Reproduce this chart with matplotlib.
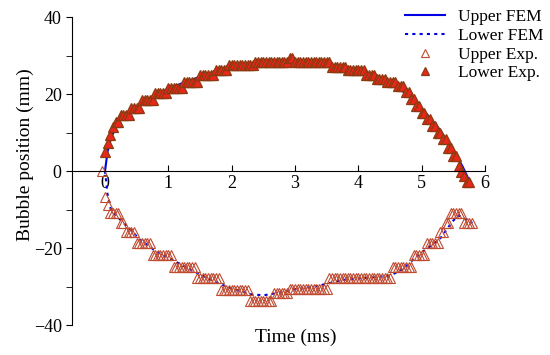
import numpy as np
import matplotlib
matplotlib.use("Agg")
import matplotlib.pyplot as plt

plt.rcParams['font.family'] = ['Liberation Serif', 'DejaVu Serif']
nan = np.nan

# frame times (ms)
time_ms = [-0.042, 0.0, 0.042, 0.083, 0.125, 0.167, 0.208, 0.25, 0.292, 0.333, 0.375, 0.417, 0.458,
           0.5, 0.542, 0.583, 0.625, 0.667, 0.708, 0.75, 0.792, 0.833, 0.875, 0.917, 0.958,
           1.0, 1.042, 1.083, 1.125, 1.167, 1.208, 1.25, 1.292, 1.333, 1.375, 1.417, 1.458,
           1.5, 1.542, 1.583, 1.625, 1.667, 1.708, 1.75, 1.792, 1.833, 1.875, 1.917, 1.958,
           2.0, 2.042, 2.083, 2.125, 2.167, 2.208, 2.25, 2.292, 2.333, 2.375, 2.417, 2.458,
           2.5, 2.542, 2.583, 2.625, 2.667, 2.708, 2.75, 2.792, 2.833, 2.875, 2.917, 2.958,
           3.0, 3.042, 3.083, 3.125, 3.167, 3.208, 3.25, 3.292, 3.333, 3.375, 3.417, 3.458,
           3.5, 3.542, 3.583, 3.625, 3.667, 3.708, 3.75, 3.792, 3.833, 3.875, 3.917, 3.958,
           4.0, 4.042, 4.083, 4.125, 4.167, 4.208, 4.25, 4.292, 4.333, 4.375, 4.417, 4.458,
           4.5, 4.542, 4.583, 4.625, 4.667, 4.708, 4.75, 4.792, 4.833, 4.875, 4.917, 4.958,
           5.0, 5.042, 5.083, 5.125, 5.167, 5.208, 5.25, 5.292, 5.333, 5.375, 5.417, 5.458,
           5.5, 5.542, 5.583, 5.625, 5.667, 5.708, 5.75, 5.792]

# open triangles
upper_exp = [0, -6.7, -8.8, -10.9, -10.9, -10.9, -10.9, -13.5, -13.5, -15.8, -15.8, -15.8, -15.8,
             -18.7, -18.7, -18.7, -18.7, -18.7, -18.7, -21.8, -21.8, -21.8, -21.8, -21.8, -21.8,
             -21.8, -21.8, -24.9, -24.9, -24.9, -24.9, -24.9, -24.9, -24.9, -24.9, -24.9, -27.8,
             -27.8, -27.8, -27.8, -27.8, -27.8, -27.8, -27.8, -27.8, -30.9, -30.9, -30.9, -30.9,
             -30.9, -30.9, -30.9, -30.9, -30.9, -30.9, -30.9, -33.8, -33.8, -33.8, -33.8, -33.8,
             -33.8, -33.8, -33.8, -33.8, -31.7, -31.7, -31.7, -31.7, -31.7, -31.7, -30.6, -30.6,
             -30.6, -30.6, -30.6, -30.6, -30.6, -30.6, -30.6, -30.6, -30.6, -30.6, -30.6, -30.6,
             -30.6, -27.8, -27.8, -27.8, -27.8, -27.8, -27.8, -27.8, -27.8, -27.8, -27.8, -27.8,
             -27.8, -27.8, -27.8, -27.8, -27.8, -27.8, -27.8, -27.8, -27.8, -27.8, -27.8, -27.8,
             -27.8, -24.9, -24.9, -24.9, -24.9, -24.9, -24.9, -24.9, -24.9, -21.8, -21.8, -21.8,
             -21.8, -21.8, -18.7, -18.7, -18.7, -18.7, -18.7, -15.8, -15.8, -13.5, -13.5, -10.9,
             -10.9, -10.9, -10.9, -10.9, -13.5, -13.5, -13.5, -13.5]

# filled triangles
lower_exp = [nan, 4.9, 7.3, 9.4, 11.4, 12.7, 12.7, 14.5, 14.5, 14.5, 14.5, 16.4, 16.4,
             16.4, 16.4, 18.4, 18.4, 18.4, 18.4, 18.4, 20.3, 20.3, 20.3, 20.3, 20.3,
             21.6, 21.6, 21.6, 21.6, 21.6, 21.6, 23.1, 23.1, 23.1, 23.1, 23.1, 23.1,
             24.9, 24.9, 24.9, 24.9, 24.9, 24.9, 26.2, 26.2, 26.2, 26.2, 26.2, 27.5,
             27.5, 27.5, 27.5, 27.5, 27.5, 27.5, 27.5, 27.5, 27.5, 28.3, 28.3, 28.3,
             28.3, 28.3, 28.3, 28.3, 28.3, 28.3, 28.3, 28.3, 28.3, 28.3, 29.3, 29.3,
             28.3, 28.3, 28.3, 28.3, 28.3, 28.3, 28.3, 28.3, 28.3, 28.3, 28.3, 28.3,
             28.3, 28.3, 27.0, 27.0, 27.0, 27.0, 27.0, 27.0, 26.2, 26.2, 26.2, 26.2,
             26.2, 26.2, 26.2, 25.0, 25.0, 25.0, 25.0, 24.0, 24.0, 24.0, 24.0, 23.0,
             23.0, 23.0, 23.0, 22.0, 22.0, 22.0, 20.5, 20.5, 18.8, 18.8, 16.8, 16.8,
             15.0, 15.0, 13.4, 13.4, 11.8, 11.8, 10.0, 10.0, 8.3, 8.3, 6.0, 6.0,
             3.8, 3.8, 1.2, -0.3, -1.3, -2.9, -2.9, nan]

# FEM curves
fem_up_t = [0, 0.04, 0.1, 0.2, 0.3, 0.5, 0.75, 1.0, 1.25, 1.5, 1.75, 2.0, 2.25, 2.5, 2.75,
            3.0, 3.25, 3.5, 3.75, 4.0, 4.25, 4.5, 4.75, 5.0, 5.25, 5.5, 5.65, 5.75]
fem_up = [0, 5, 8.8, 12.3, 14.2, 16.6, 19.4, 21.4, 23.0, 24.5, 25.9, 27.0, 27.7, 28.1, 28.4,
          28.5, 28.3, 27.9, 27.0, 25.9, 24.4, 22.6, 20.2, 16.3, 11.5, 5.5, 1, -2.5]
fem_low_t = [0, 0.04, 0.09, 0.2, 0.4, 0.55, 0.8, 1.1, 1.3, 1.52, 1.75, 2.0, 2.3, 2.5, 2.75,
             3.0, 3.25, 3.58, 3.75, 4.0, 4.25, 4.5, 4.7, 4.88, 5.05, 5.28, 5.48, 5.58, 5.69, 5.8]
fem_low = [0, -6, -9.8, -12, -15.2, -17.8, -20.8, -23.4, -25.2, -27.0, -28.9, -30.5, -32, -32.3, -31.6,
           -30.7, -30.2, -29, -28.3, -27.9, -27.6, -27.2, -25.5, -22.8, -20.5, -17.8, -13.2,
           -11.5, -12.5, -13.5]

fig = plt.figure(figsize=(5.5, 3.55), dpi=100)
ax = fig.add_axes([0.131, 0.0845, 0.751, 0.8675])

ax.plot(fem_up_t, fem_up, color='#0000E6', lw=1.5, label='Upper FEM')
ax.plot(fem_low_t, fem_low, color='#0000E6', lw=1.5, ls=(0, (1.5, 2)), label='Lower FEM')
ax.plot(time_ms, upper_exp, ls='none', marker='^', ms=6.5, mfc='none', mec='#C04A30',
        mew=0.8, label='Upper Exp.')
ax.plot(time_ms, lower_exp, ls='none', marker='^', ms=6.5, mfc='#E8261A', mec='#8B3A10',
        mew=0.9, label='Lower Exp.')

ax.set_xlim(-0.52, 6)
ax.set_ylim(-40, 40)
ax.spines['top'].set_visible(False)
ax.spines['right'].set_visible(False)
ax.spines['bottom'].set_position(('data', 0))
ax.set_xticks([0, 1, 2, 3, 4, 5, 6])
ax.set_yticks([-40, -20, 0, 20, 40])
ax.set_yticks([-30, -10, 10, 30], minor=True)
ax.tick_params(axis='x', direction='in', length=4, labelsize=13, pad=3)
ax.tick_params(axis='y', which='both', direction='out', length=4, labelsize=13)

ax.set_xlabel('Time (ms)', fontsize=14)
ax.xaxis.set_label_coords(0.542, -0.012)
ax.set_ylabel('Bubble position (mm)', fontsize=14)
ax.yaxis.set_label_coords(-0.092, 0.552)

ax.legend(loc='upper left', bbox_to_anchor=(405 / 550, 1 - 9 / 355),
          bbox_transform=fig.transFigure, frameon=False, fontsize=12.5,
          handlelength=2.3, handletextpad=0.75, labelspacing=0.15,
          borderpad=0, borderaxespad=0, numpoints=1, markerscale=0.9)

fig.savefig('out.png', dpi=100)
